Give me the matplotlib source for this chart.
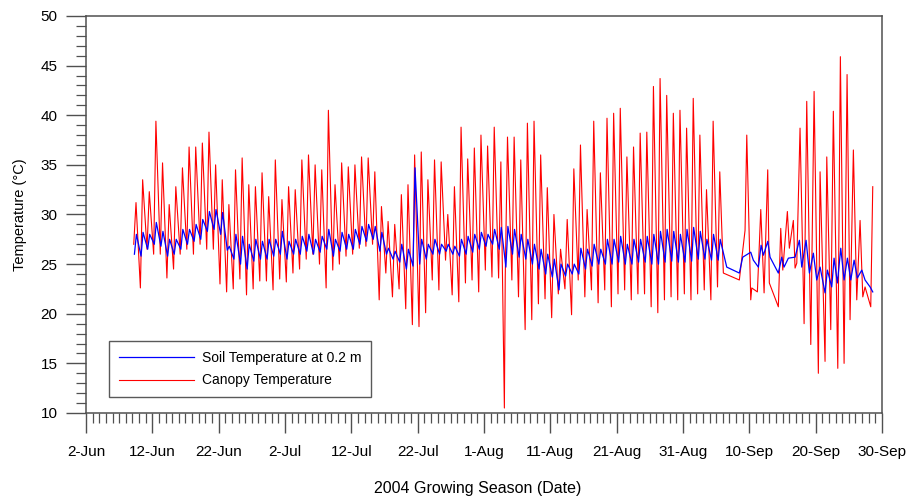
import matplotlib
matplotlib.use("Agg")
import matplotlib.pyplot as plt
from matplotlib.ticker import MultipleLocator

plt.rcParams['font.family'] = ['Liberation Sans', 'DejaVu Sans']

# x axis: days after 2-Jun 2004
tick_days = [0, 10, 20, 30, 40, 50, 60, 70, 80, 90, 100, 110, 120]
tick_labels = ['2-Jun', '12-Jun', '22-Jun', '2-Jul', '12-Jul', '22-Jul', '1-Aug',
               '11-Aug', '21-Aug', '31-Aug', '10-Sep', '20-Sep', '30-Sep']

# daily readings, day 7 .. day 95
days = list(range(7, 96))
canopy_max = [31.2, 33.5, 32.3, 39.4, 35.2, 31.0, 32.8, 34.7, 36.8, 36.8,
              37.2, 38.3, 35.0, 33.5, 31.0, 34.5, 35.7, 33.0, 32.8, 34.2,
              31.8, 35.5, 31.5, 32.8, 32.5, 35.5, 36.0, 35.0, 34.5, 40.5,
              33.0, 35.2, 34.8, 35.0, 35.8, 35.7, 34.3, 30.8, 29.3, 29.0,
              32.0, 33.0, 36.0, 36.3, 33.5, 35.5, 35.3, 30.0, 32.8, 38.8,
              35.6, 36.7, 38.0, 36.9, 38.8, 35.3, 37.8, 37.8, 35.5, 39.2,
              39.4, 36.0, 32.7, 30.0, 26.5, 29.5, 34.6, 37.0, 30.5, 39.4,
              34.2, 39.7, 40.2, 40.7, 35.8, 36.8, 38.2, 38.3, 42.9, 43.7,
              42.0, 40.2, 40.5, 38.7, 41.7, 38.0, 32.5, 39.4, 34.3]
canopy_min = [27.0, 22.6, 26.5, 26.0, 26.0, 23.6, 24.5, 26.0, 26.5, 26.0,
              27.0, 26.5, 26.5, 23.0, 22.2, 22.5, 23.5, 21.9, 22.5, 23.3,
              23.3, 22.4, 23.5, 23.2, 24.1, 24.5, 25.5, 26.0, 25.0, 22.6,
              24.4, 25.0, 25.8, 26.0, 26.6, 26.8, 27.0, 21.4, 24.1, 21.7,
              22.5, 20.5, 18.9, 18.7, 20.1, 23.4, 22.4, 25.4, 21.9, 21.2,
              23.1, 23.4, 22.2, 24.4, 23.7, 23.6, 23.7, 23.4, 21.7, 18.4,
              19.4, 21.0, 21.5, 19.6, 22.0, 22.5, 19.9, 23.4, 21.7, 22.4,
              21.1, 22.4, 20.7, 22.0, 22.4, 21.4, 22.0, 22.0, 20.7, 20.1,
              21.4, 21.7, 21.4, 22.0, 21.4, 22.0, 22.4, 21.4, 22.7]
soil_max = [28.0, 28.2, 28.0, 29.2, 28.3, 27.5, 27.5, 28.5, 28.5, 29.0,
            29.5, 30.3, 30.5, 30.2, 26.8, 28.0, 27.8, 27.0, 27.5, 27.3,
            27.5, 27.5, 28.3, 27.3, 27.5, 27.8, 28.0, 27.5, 27.8, 28.5,
            27.5, 28.2, 28.0, 28.5, 28.8, 29.0, 28.8, 28.2, 26.6, 26.3,
            27.0, 26.5, 34.7, 27.5, 27.0, 27.5, 27.0, 27.0, 26.8, 27.5,
            27.8, 28.0, 28.2, 28.0, 28.5, 28.7, 28.8, 28.5, 28.0, 27.5,
            27.0, 26.5, 26.0, 25.5, 25.0, 25.0, 25.0, 26.6, 26.5, 27.0,
            26.5, 27.5, 27.5, 27.8, 27.0, 27.5, 27.5, 27.8, 28.0, 28.3,
            28.5, 28.3, 28.0, 28.5, 28.7, 28.3, 27.5, 28.0, 27.5]
soil_min = [26.0, 25.8, 26.5, 27.0, 26.8, 25.8, 26.0, 26.5, 27.0, 27.3,
            27.5, 28.3, 28.5, 28.0, 26.4, 25.5, 25.0, 24.5, 25.3, 25.5,
            25.5, 25.8, 26.0, 25.5, 26.0, 26.0, 26.3, 26.0, 26.2, 26.5,
            25.8, 26.3, 26.5, 26.5, 27.0, 27.3, 27.5, 26.3, 26.0, 25.5,
            25.2, 24.5, 24.8, 25.0, 25.5, 26.0, 26.0, 26.3, 26.0, 25.8,
            26.0, 26.2, 26.5, 26.8, 27.0, 26.5, 24.7, 26.0, 25.7, 25.5,
            25.0, 24.5, 24.0, 23.7, 22.4, 23.8, 24.0, 24.0, 24.5, 24.8,
            25.0, 25.0, 25.0, 25.2, 25.0, 25.0, 25.2, 25.2, 25.0, 25.0,
            25.2, 25.3, 25.2, 25.2, 25.3, 25.5, 25.5, 25.4, 25.4]

# sensor glitch on 4-Aug
spike_day = 63.07
spike_temp = 10.5

# September part (irregular record)
sep_canopy_day = [96.08, 98.49, 99.35, 99.61, 100.21, 100.36, 101.21, 101.72,
                  102.22, 102.77, 103.01, 104.37, 104.73, 105.04, 105.73,
                  106.03, 106.63, 106.89, 107.15, 107.64, 108.25, 108.65,
                  109.26, 109.76, 110.40, 110.66, 111.41, 111.67, 112.27,
                  112.66, 113.33, 113.72, 114.28, 114.73, 115.18, 115.68,
                  116.19, 116.69, 117.10, 117.44, 118.30, 118.60]
sep_canopy = [24.1, 23.4, 28.4, 38.0, 21.4, 22.6, 22.2, 30.5, 22.1, 34.5,
              23.1, 20.7, 28.6, 24.4, 30.3, 26.6, 29.4, 24.6, 25.1, 38.7,
              19.0, 41.4, 16.9, 42.4, 14.0, 34.3, 15.2, 35.8, 18.4, 40.4,
              14.5, 45.9, 15.0, 44.1, 19.4, 36.5, 21.4, 29.4, 21.7, 22.7,
              20.7, 32.8]
sep_soil_day = [96.59, 98.49, 99.00, 100.21, 100.60, 101.36, 101.77, 102.12,
                102.78, 103.12, 104.37, 104.88, 105.23, 105.88, 106.89,
                107.54, 107.90, 108.55, 109.05, 109.65, 110.16, 110.66,
                111.41, 111.76, 112.42, 112.77, 113.27, 113.78, 114.28,
                114.78, 115.29, 115.79, 116.28, 116.95, 117.44, 118.20, 118.60]
sep_soil = [24.7, 24.1, 25.7, 26.2, 25.4, 24.7, 26.9, 25.9, 27.3, 25.7,
            24.1, 25.7, 24.7, 25.6, 25.7, 27.4, 24.7, 27.4, 24.1, 26.1,
            23.4, 24.7, 22.1, 24.4, 22.7, 25.6, 23.1, 26.6, 23.4, 25.6,
            23.4, 25.4, 23.6, 24.4, 23.4, 22.7, 22.2]


def build_series(lo, hi, t_lo, t_hi, extra_t, extra_v):
    pts = []
    for d, a, b in zip(days, lo, hi):
        pts.append((d + t_lo, a))
        pts.append((d + t_hi, b))
    pts += list(zip(extra_t, extra_v))
    pts.sort()
    return [p[0] for p in pts], [p[1] for p in pts]


canopy_t, canopy_v = build_series(canopy_min, canopy_max, 0.2, 0.54,
                                  sep_canopy_day + [spike_day],
                                  sep_canopy + [spike_temp])
soil_t, soil_v = build_series(soil_min, soil_max, 0.3, 0.6,
                              sep_soil_day, sep_soil)

fig = plt.figure(figsize=(9.08, 4.98), dpi=100)
ax = fig.add_axes([0.0947, 0.1707, 0.8767, 0.7972])

red_line, = ax.plot(canopy_t, canopy_v, color='#ff0000', lw=0.8)
blue_line, = ax.plot(soil_t, soil_v, color='#0000ff', lw=0.9)

ax.set_xlim(0, 120)
ax.set_ylim(10, 50)
ax.set_xticks(tick_days)
ax.set_xticklabels(tick_labels)
ax.xaxis.set_minor_locator(MultipleLocator(1))
ax.yaxis.set_major_locator(MultipleLocator(5))
ax.yaxis.set_minor_locator(MultipleLocator(1))

axis_color = '#505050'
for s in ax.spines.values():
    s.set_color(axis_color)
    s.set_linewidth(1.1)
ax.tick_params(which='major', length=14.4, width=1.0, color=axis_color,
               labelsize=11, pad=6)
ax.tick_params(which='minor', length=7.2, width=0.9, color=axis_color)
ax.tick_params(axis='x', which='major', pad=9)

ax.set_ylabel('Temperature (\u00b0C)', fontsize=10.5)
ax.yaxis.set_label_coords(-0.074, 0.5)
ax.set_xlabel('2004 Growing Season (Date)', fontsize=11.5)
ax.xaxis.set_label_coords(0.492, -0.172)

leg = ax.legend([blue_line, red_line],
                ['Soil Temperature at 0.2 m', 'Canopy Temperature'],
                loc='lower left', bbox_to_anchor=(0.029, 0.040),
                borderaxespad=0, fancybox=False, fontsize=10,
                handlelength=5.4, handletextpad=0.6, labelspacing=0.6,
                borderpad=0.7)
leg.get_frame().set_edgecolor('#303030')
leg.get_frame().set_linewidth(1.0)

fig.savefig('out.png', dpi=100)
